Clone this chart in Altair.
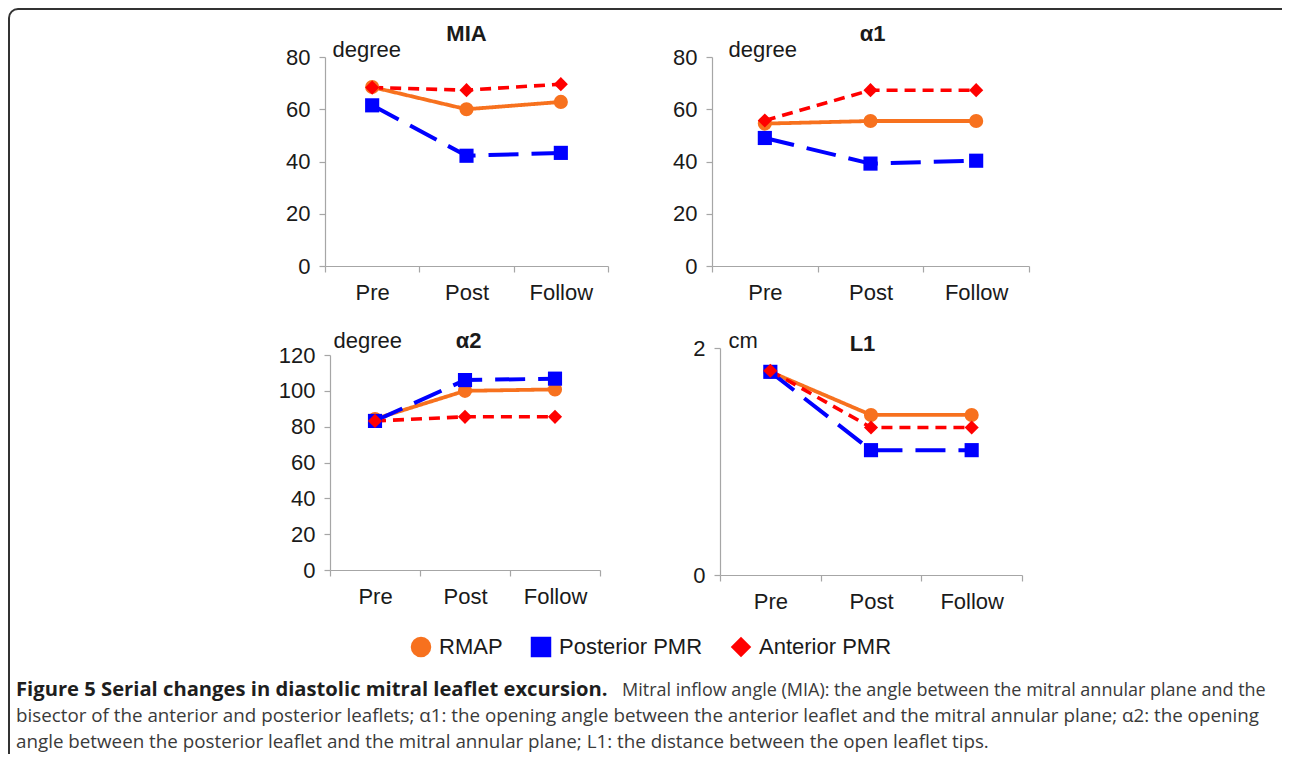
import altair as alt
import pandas as pd

# ---------------- data ----------------
times = ["Pre", "Post", "Follow"]
series_names = ["RMAP", "Posterior PMR", "Anterior PMR"]
series_colors = ["#F7711E", "#0000FF", "#FF0000"]
series_shapes = ["circle", "square", "diamond"]
series_dashes = [[1, 0], [30, 13], [11, 7]]
series_widths = [3.8, 4.0, 3.6]

mia_rmap = [68.5, 60.0, 62.8]
mia_post = [61.5, 42.2, 43.3]
mia_ant = [68.3, 67.3, 69.6]

a1_rmap = [54.5, 55.5, 55.5]
a1_post = [49.0, 39.2, 40.3]
a1_ant = [55.7, 67.3, 67.3]

a2_rmap = [84.3, 100.0, 100.8]
a2_post = [83.2, 106.0, 106.8]
a2_ant = [83.2, 85.5, 85.5]

l1_rmap = [1.79, 1.41, 1.41]
l1_post = [1.79, 1.10, 1.10]
l1_ant = [1.80, 1.30, 1.30]

ticks_mia = [0, 20, 40, 60, 80]
ticks_a1 = [0, 20, 40, 60, 80]
ticks_a2 = [0, 20, 40, 60, 80, 100, 120]
ticks_l1 = [0, 1, 2]

caption_bold = ["Figure 5 Serial changes in diastolic mitral leaflet excursion."]
caption_first = ["Mitral inflow angle (MIA): the angle between the mitral annular plane and the"]
caption_second = ["bisector of the anterior and posterior leaflets; \u03b11: the opening angle between the anterior leaflet and the mitral annular plane; \u03b12: the opening"]
caption_third = ["angle between the posterior leaflet and the mitral annular plane; L1: the distance between the open leaflet tips."]

# ---------------- layout (pixels inside the chart) ----------------
W, H = 1274, 746
FONT = "Liberation Sans"
CAP_FONT = "Open Sans"
AXIS_GRAY = "#A6A6A6"
TXT = "#1a1a1a"
FS = 22

geom = {
    "MIA": dict(x0=317, x1=600, ytop=49, ybot=258, udx=7, uy=48, tx=458, ty=32),
    "\u03b11": dict(x0=704, x1=1021, ytop=49, ybot=258, udx=16, uy=48, tx=864, ty=32),
    "\u03b12": dict(x0=322, x1=592, ytop=347, ybot=562, udx=3, uy=339, tx=460, ty=339),
    "L1": dict(x0=712, x1=1014, ytop=340, ybot=567, udx=8, uy=339, tx=854, ty=342),
}

color_scale = alt.Scale(domain=series_names, range=series_colors)
shape_scale = alt.Scale(domain=series_names, range=series_shapes)

legend = alt.Legend(
    orient="none", legendX=402, legendY=628, direction="horizontal",
    labelFont=FONT, labelFontSize=FS, labelColor=TXT, symbolSize=420,
    symbolStrokeWidth=0, columnPadding=27, labelOffset=7,
)


def panel(name, series_values, ymax, ticks, unit, fmt):
    g = geom[name]
    rows = []
    for s, vals in zip(series_names, series_values):
        for t, v in zip(times, vals):
            rows.append({"time": t, "series": s, "value": v})
    df = pd.DataFrame(rows)

    x = alt.X(
        "time:N", sort=times,
        scale=alt.Scale(type="band", domain=times, range=[g["x0"], g["x1"]],
                        paddingInner=0, paddingOuter=0),
        axis=alt.Axis(
            orient="bottom", offset=g["ybot"] - H, tickBand="extent", labelAngle=0,
            tickSize=6, labelPadding=10, labelFont=FONT, labelFontSize=FS,
            labelColor=TXT, domainColor=AXIS_GRAY, tickColor=AXIS_GRAY,
            domainWidth=1.2, tickWidth=1.2, grid=False,
            title=name, titleX=g["tx"], titleY=g["ty"] - g["ybot"],
            titleAlign="center", titleBaseline="alphabetic", titleFont=FONT,
            titleFontSize=FS, titleFontWeight="bold", titleColor=TXT,
        ),
    )
    y = alt.Y(
        "value:Q",
        scale=alt.Scale(domain=[0, ymax], range=[g["ybot"], g["ytop"]], nice=False),
        axis=alt.Axis(
            orient="left", offset=-g["x0"], values=ticks, format=fmt, tickSize=6,
            labelPadding=9, labelFont=FONT, labelFontSize=FS, labelColor=TXT,
            domainColor=AXIS_GRAY, tickColor=AXIS_GRAY, domainWidth=1.2, tickWidth=1.2,
            grid=False, title=unit, titleAngle=0, titleX=g["udx"], titleY=g["uy"],
            titleAlign="left", titleBaseline="alphabetic", titleFont=FONT,
            titleFontSize=FS, titleFontWeight="normal", titleColor=TXT,
        ),
    )
    layers = []
    for s, c, d, w in zip(series_names, series_colors, series_dashes, series_widths):
        layers.append(
            alt.Chart(df).transform_filter(alt.datum.series == s)
            .mark_line(color=c, strokeDash=d, strokeWidth=w)
            .encode(x=x, y=y)
        )
    pts = alt.Chart(df).mark_point(filled=True, size=200, opacity=1).encode(
        x=x, y=y,
        color=alt.Color("series:N", scale=color_scale, legend=legend, title=None),
        shape=alt.Shape("series:N", scale=shape_scale, legend=legend, title=None),
    )
    layers.append(pts)
    return alt.layer(*layers)


p1 = panel("MIA", [mia_rmap, mia_post, mia_ant], 80, ticks_mia, "degree", "d")
p2 = panel("\u03b11", [a1_rmap, a1_post, a1_ant], 80, ticks_a1, "degree", "d")
p3 = panel("\u03b12", [a2_rmap, a2_post, a2_ant], 120, ticks_a2, "degree", "d")
p4 = panel("L1", [l1_rmap, l1_post, l1_ant], 2, ticks_l1, "cm", "d")

frame = alt.Chart(pd.DataFrame({"k": [0]})).mark_rect(
    filled=False, stroke="#333333", strokeWidth=2, cornerRadius=9
).encode(x=alt.value(1), x2=alt.value(1300), y=alt.value(1), y2=alt.value(800))


def cap(lines_list, x, y, bold, color, size):
    return alt.Chart(pd.DataFrame({"t": lines_list})).mark_text(
        align="left", baseline="alphabetic", font=CAP_FONT, fontSize=size,
        fontWeight="bold" if bold else "normal", color=color,
    ).encode(x=alt.value(x), y=alt.value(y), text="t:N")


c0 = cap(caption_bold, 8, 688, True, "#1e1e1e", 20.2)
c1 = cap(caption_first, 614, 688, False, "#3a3a3a", 18.0)
c2 = cap(caption_second, 8, 714, False, "#3a3a3a", 18.8)
c3 = cap(caption_third, 8, 740, False, "#3a3a3a", 18.8)

chart = alt.layer(frame, p1, p2, p3, p4, c0, c1, c2, c3).resolve_scale(
    x="independent", y="independent"
).properties(
    width=W, height=H, autosize="none", padding=0,
).configure_view(stroke="transparent")

chart.save("out.html", embed_options={"renderer": "svg", "actions": False})
